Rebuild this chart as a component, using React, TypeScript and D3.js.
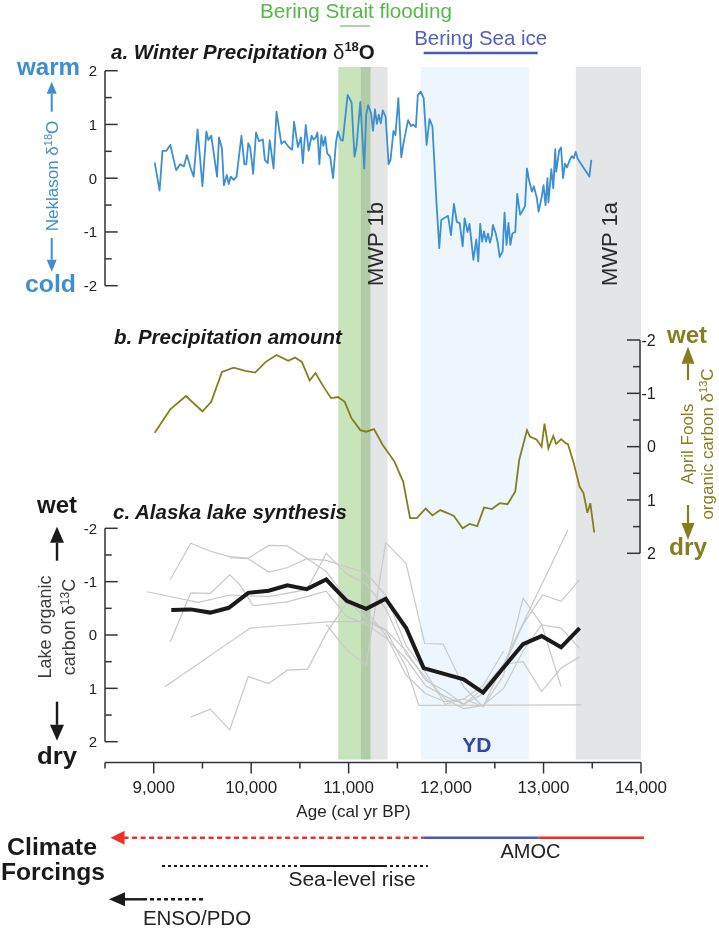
import React from "react";
import * as d3 from "d3";

const WIDTH = 719;
const HEIGHT = 930;
const FONT = "'Liberation Sans', Arial, Helvetica, sans-serif";

// ---------- axes ----------
const ageDomain: [number, number] = [8500, 14000];
const ageMajorTicks = [9000, 10000, 11000, 12000, 13000, 14000];
const ageMinorTicks = [8500, 9500, 10500, 11500, 12500, 13500];
const valueMajorTicks = [-2, -1, 0, 1, 2];
const valueMinorTicks = [-1.5, -0.5, 0.5, 1.5];

// ---------- shaded intervals (cal yr BP) ----------
const bands = [
  { label: "MWP 1b", start: 11126, end: 11400, fill: "#e4e5e7", blend: false },
  { label: "MWP 1a", start: 13331, end: 14000, fill: "#e4e5e7", blend: false },
  { label: "YD", start: 11741, end: 12849, fill: "#eef6fd", blend: false },
  { label: "Bering Strait flooding", start: 10893, end: 11225, fill: "#c8e4ba", blend: true },
];
const straitFloodingSpan: [number, number] = [10910, 11220];
const seaIceSpan: [number, number] = [11770, 12940];

// ---------- a. Neklason winter precipitation d18O ----------
const neklasonD18O: [number, number][] = [
  [9010, 0.29], [9060, -0.23], [9090, 0.51], [9130, 0.51], [9170, 0.62], [9230, 0.15], [9270, 0.26],
  [9310, 0.22], [9340, 0.43], [9380, 0.18], [9410, 0.03], [9450, 0.91], [9500, -0.15], [9540, 0.87],
  [9560, 0.71], [9590, 0.79], [9650, 0.03], [9670, 0.76], [9700, 0.55], [9720, -0.13], [9750, 0.06],
  [9770, -0.11], [9790, 0.03], [9820, -0.03], [9850, 0.03], [9900, 0.79], [9930, 0.26], [9950, 0.26],
  [9970, 0.65], [9990, 0.57], [10020, 0.08], [10050, 0.85], [10080, 0.69], [10120, 0.72], [10140, 0.34],
  [10170, 0.28], [10190, 0.71], [10230, 0.18], [10260, 1.24], [10290, 0.87], [10310, 0.64], [10340, 0.69],
  [10360, 0.64], [10390, 0.57], [10420, 0.53], [10440, 1.05], [10470, 0.69], [10480, 0.58], [10510, 0.76],
  [10530, 0.28], [10560, 0.99], [10590, 0.51], [10620, 0.79], [10640, 0.72], [10660, 0.75], [10680, 0.85],
  [10700, 0.26], [10720, 0.8], [10740, 0.6], [10760, 0.77], [10780, 0.46], [10810, 0.4], [10840, 0.0],
  [10870, 0.66], [10890, 0.87], [10920, 0.71], [10940, 0.7], [10990, 1.55], [11030, 1.41], [11060, 0.4],
  [11080, 0.58], [11120, 1.42], [11160, 0.18], [11180, 1.18], [11200, 1.36], [11230, 1.21], [11250, 0.88],
  [11270, 1.28], [11290, 1.01], [11310, 1.18], [11330, 1.02], [11350, 1.26], [11380, 1.14], [11410, 0.26],
  [11430, 0.34], [11460, 0.88], [11480, 0.8], [11510, 1.49], [11540, 0.39], [11560, 0.62], [11590, 0.9],
  [11610, 1.08], [11640, 0.97], [11660, 1.0], [11690, 0.95], [11710, 1.55], [11740, 1.61], [11770, 1.49],
  [11800, 0.62], [11830, 1.1], [11860, 0.96], [11900, -0.41], [11930, -1.3], [11950, -0.78], [11990, -0.73],
  [12020, -0.7], [12050, -1.06], [12080, -0.48], [12110, -0.81], [12140, -0.84], [12170, -1.27], [12190, -0.75],
  [12220, -1.0], [12240, -0.85], [12260, -1.18], [12280, -1.52], [12310, -1.14], [12330, -1.55], [12350, -0.85],
  [12370, -1.18], [12390, -0.99], [12410, -1.18], [12430, -1.03], [12450, -1.2], [12470, -1.06], [12480, -0.87],
  [12510, -1.03], [12530, -1.2], [12550, -1.47], [12580, -1.36], [12600, -0.64], [12620, -1.24], [12640, -0.83],
  [12660, -1.24], [12680, -1.03], [12710, -1.0], [12730, -0.29], [12760, -0.68], [12780, -0.62], [12810, -0.52],
  [12830, 0.18], [12850, -0.03], [12880, -0.25], [12900, -0.15], [12930, -0.36], [12950, -0.62], [12980, -0.36],
  [13000, -0.13], [13020, -0.5], [13040, 0.0], [13050, -0.45], [13080, 0.17], [13100, -0.19], [13120, 0.54],
  [13130, 0.12], [13160, 0.51], [13180, 0.57], [13200, 0.0], [13220, 0.27], [13240, 0.2], [13270, 0.34],
  [13290, 0.41], [13310, 0.37], [13330, 0.49], [13350, 0.36], [13470, 0.03], [13490, 0.34],
];

// ---------- b. April Fools organic carbon d13C ----------
const aprilFoolsD13C: [number, number][] = [
  [9010, -0.26], [9170, -0.7], [9330, -0.95], [9500, -0.66], [9590, -0.84], [9700, -1.4], [9820, -1.48],
  [9940, -1.42], [10040, -1.39], [10150, -1.59], [10260, -1.72], [10380, -1.61], [10450, -1.67], [10520, -1.59],
  [10600, -1.24], [10660, -1.38], [10740, -1.13], [10820, -0.91], [10890, -0.93], [10960, -0.84], [11030, -0.53],
  [11120, -0.31], [11180, -0.28], [11260, -0.33], [11350, -0.03], [11470, 0.28], [11560, 0.66], [11630, 1.34],
  [11700, 1.34], [11790, 1.16], [11860, 1.29], [11940, 1.19], [12020, 1.25], [12080, 1.3], [12170, 1.53],
  [12240, 1.45], [12320, 1.49], [12390, 1.14], [12470, 1.17], [12550, 1.06], [12630, 1.08], [12710, 0.84],
  [12750, 0.25], [12830, -0.31], [12860, -0.19], [12930, -0.13], [12980, 0.0], [13010, -0.43], [13050, 0.03],
  [13100, -0.2], [13130, -0.05], [13180, -0.14], [13230, -0.06], [13250, -0.05], [13310, 0.31], [13370, 0.75],
  [13410, 0.87], [13450, 1.24], [13480, 1.06], [13520, 1.61],
];

// ---------- c. Alaska lake organic carbon d13C records ----------
const lakeRecordA: [number, number][] = [
  [9170, -1.04], [9380, -1.72], [9580, -1.57], [9780, -1.47], [9970, -1.44], [10180, -1.68], [10370, -1.67],
  [10570, -1.44], [10770, -1.19], [10980, -0.69], [11180, -0.3], [11380, -0.1], [11590, 0.3], [11790, 0.85],
  [11990, 1.05], [12180, 1.3], [12380, 1.1], [12590, 0.6], [12790, -0.2], [12990, -0.75], [13180, -0.63], [13370, -1.04],
];
const lakeRecordB: [number, number][] = [
  [8930, -0.81], [9460, -0.61], [9780, -0.75], [10180, -0.72], [10570, -0.85], [10770, -1.53], [10980, -1.15],
  [11180, -0.95], [11380, -0.5], [11590, 0.35], [11790, 0.8], [11990, 1.2], [12180, 1.38], [12380, 1.32],
  [12590, 1.0], [12790, 0.3], [12980, -0.19], [13180, -0.13], [13370, 0.25],
];
const lakeRecordC: [number, number][] = [
  [9170, 0.13], [9380, -0.79], [9580, -0.78], [9780, -1.13], [9880, -0.95], [10020, -0.55], [10370, -0.62],
  [10570, -0.72], [10770, -0.82], [10980, -0.35], [11180, -0.2], [11380, 0.05], [11590, 0.45], [11790, 0.95],
  [11990, 1.15], [12180, 1.3], [12380, 1.0], [12590, 0.55], [12790, 0.5], [12980, 1.06], [13180, 0.62], [13370, 0.41],
];
const lakeRecordD: [number, number][] = [
  [9115, 0.97], [9990, -0.13], [10810, -0.25], [11180, -0.25], [11380, -0.09], [11590, 0.6], [11720, 1.32], [13390, 1.31],
];
const lakeRecordE: [number, number][] = [
  [9380, 1.54], [9580, 1.39], [9780, 1.78], [9970, 0.78], [10180, 0.91], [10370, 0.66], [10580, 0.64],
  [10770, -0.03], [10980, -0.6], [11180, -0.45], [11380, 0.0], [11590, 0.75], [11790, 1.1], [11990, 1.25],
  [12180, 1.2], [12380, 1.34], [13250, -1.97],
];
const lakeRecordF: [number, number][] = [
  [10770, -0.2], [10980, 0.28], [11180, 0.56], [11380, -1.73], [11590, -1.34], [11780, 0.16], [11970, 0.17],
  [12180, 0.97], [12380, 1.35], [12590, 0.75], [12790, -0.69], [12980, -0.2], [13180, 0.97],
];
const lakeRecordG: [number, number][] = [
  [9780, -1.45], [9970, -1.43], [10180, -1.18], [10370, -1.26], [10570, -1.43], [10770, -1.4], [10980, -1.28],
  [11180, -1.16], [11380, -0.75], [11590, 0.2], [11790, 0.7], [11990, 1.3], [12180, 1.2], [12380, 0.95],
  [12590, 0.3],
];
const lakeRecords = [lakeRecordA, lakeRecordB, lakeRecordC, lakeRecordD, lakeRecordE, lakeRecordF, lakeRecordG];

const lakeSynthesis: [number, number][] = [
  [9180, -0.47], [9380, -0.48], [9580, -0.42], [9770, -0.51], [9970, -0.79], [10180, -0.83], [10370, -0.93],
  [10570, -0.86], [10770, -1.04], [10980, -0.64], [11180, -0.49], [11380, -0.68], [11590, -0.13], [11770, 0.62],
  [12180, 0.83], [12380, 1.08], [12590, 0.61], [12790, 0.17], [12980, 0.02], [13180, 0.23], [13370, -0.13],
];

// ---------- climate forcings (cal yr BP) ----------
const amocSegments = [
  { start: 8557, end: 11772, color: "#e8322b", dash: "5,3.5" },
  { start: 11772, end: 12951, color: "#4a5ab5", dash: "" },
  { start: 12951, end: 14030, color: "#e8322b", dash: "" },
];
const seaLevelSegments = [
  { start: 9085, end: 11813, dash: "3,3" },
  { start: 10520, end: 11392, dash: "" },
];
const ensoSegments = [
  { start: 8541, end: 8890, dash: "" },
  { start: 8890, end: 9505, dash: "4,3" },
];

const BLUE = "#3d8fd0";
const OLIVE = "#857e1e";
const AXIS = "#333333";

function VArrow({ x, from, tip, head, half, color, width }: any) {
  const dir = tip < from ? -1 : 1;
  const base = tip - dir * head;
  return (
    <g>
      <line x1={x} x2={x} y1={from} y2={base} stroke={color} strokeWidth={width} />
      <path d={`M${x},${tip}L${x - half},${base}L${x + half},${base}Z`} fill={color} />
    </g>
  );
}

function LeftHeadArrow({ tip, y, color, head = 14, half = 7 }: any) {
  return <path d={`M${tip},${y}L${tip + head},${y - half}L${tip + head},${y + half}Z`} fill={color} />;
}

function LeftAxis({ y, x0 }: any) {
  return (
    <g>
      <line x1={x0} x2={x0} y1={y(2)} y2={y(-2)} stroke={AXIS} strokeWidth={1.5} />
      {valueMajorTicks.map((v) => (
        <g key={v}>
          <line x1={x0} x2={x0 + 12.7} y1={y(v)} y2={y(v)} stroke={AXIS} strokeWidth={1.5} />
          <text x={x0 - 8} y={y(v)} dy="0.36em" textAnchor="end" fontSize={15} fill="#222">
            {String(v)}
          </text>
        </g>
      ))}
      {valueMinorTicks.map((v) => (
        <line key={v} x1={x0} x2={x0 + 6.7} y1={y(v)} y2={y(v)} stroke={AXIS} strokeWidth={1.5} />
      ))}
    </g>
  );
}

export default function App() {
  const x = d3.scaleLinear().domain(ageDomain).range([105, 641]);
  const yA = d3.scaleLinear().domain([-2, 2]).range([285.7, 70.7]);
  const yB = d3.scaleLinear().domain([-2, 2]).range([340, 553.3]);
  const yC = d3.scaleLinear().domain([-2, 2]).range([528.3, 741.7]);

  const lineA = d3.line<[number, number]>().x((d) => x(d[0])).y((d) => yA(d[1]));
  const lineB = d3.line<[number, number]>().x((d) => x(d[0])).y((d) => yB(d[1]));
  const lineC = d3.line<[number, number]>().x((d) => x(d[0])).y((d) => yC(d[1]));

  const bandTop = 67;
  const bandBottom = 759.5;
  const axisY = 762.5;
  const rightAxisX = 640;

  const mwpBands = bands.filter((b) => b.label.startsWith("MWP"));
  const ydBand = bands.find((b) => b.label === "YD")!;

  return (
    <svg
      width={WIDTH}
      height={HEIGHT}
      style={{ position: "absolute", left: 0, top: 0, display: "block" }}
      fontFamily={FONT}
    >
      <rect x={0} y={0} width={WIDTH} height={HEIGHT} fill="#ffffff" />

      {/* shaded intervals */}
      {bands.map((b) => (
        <rect
          key={b.label}
          x={x(b.start)}
          y={bandTop}
          width={x(b.end) - x(b.start)}
          height={bandBottom - bandTop}
          fill={b.fill}
          style={b.blend ? { mixBlendMode: "multiply" } : undefined}
        />
      ))}
      {mwpBands.map((b) => {
        const cx = (x(b.start) + x(b.end)) / 2 + 9;
        return (
          <text
            key={b.label}
            transform={`translate(${cx},286) rotate(-90)`}
            fontSize={22}
            fill="#2a2a2a"
            textAnchor="start"
          >
            {b.label}
          </text>
        );
      })}
      <text
        x={(x(ydBand.start) + x(ydBand.end)) / 2 + 2}
        y={752}
        textAnchor="middle"
        fontSize={21}
        fontWeight="bold"
        fill="#3346a6"
      >
        YD
      </text>

      {/* event labels at top */}
      <text
        x={(x(straitFloodingSpan[0]) + x(straitFloodingSpan[1])) / 2 + 1}
        y={18}
        textAnchor="middle"
        fontSize={21}
        fill="#56b847"
        textLength={192}
        lengthAdjust="spacingAndGlyphs"
      >
        Bering Strait flooding
      </text>
      <line
        x1={x(straitFloodingSpan[0])}
        x2={x(straitFloodingSpan[1])}
        y1={26}
        y2={26}
        stroke="#a9d89e"
        strokeWidth={2}
      />
      <text
        x={(x(seaIceSpan[0]) + x(seaIceSpan[1])) / 2}
        y={45}
        textAnchor="middle"
        fontSize={21}
        fill="#5060bb"
        textLength={133}
        lengthAdjust="spacingAndGlyphs"
      >
        Bering Sea ice
      </text>
      <line x1={x(seaIceSpan[0])} x2={x(seaIceSpan[1])} y1={53} y2={53} stroke="#4a59b5" strokeWidth={2.5} />

      {/* panel titles */}
      <text x={111} y={59.3} fontSize={20.5} fontWeight="bold" fontStyle="italic" fill="#1a1a1a">
        a. Winter Precipitation{" "}
        <tspan fontStyle="normal" fontWeight="normal">δ</tspan>
        <tspan fontStyle="normal" fontSize={13} dy={-8}>18</tspan>
        <tspan fontStyle="normal" dy={8}>O</tspan>
      </text>
      <text x={114} y={344} fontSize={20.5} fontWeight="bold" fontStyle="italic" fill="#1a1a1a">
        b. Precipitation amount
      </text>
      <text x={113} y={519.3} fontSize={20.5} fontWeight="bold" fontStyle="italic" fill="#1a1a1a">
        c. Alaska lake synthesis
      </text>

      {/* panel a axis and labels */}
      <LeftAxis y={yA} x0={105} />
      <text x={17} y={75} fontSize={24} fontWeight="bold" fill={BLUE} textLength={63} lengthAdjust="spacingAndGlyphs">
        warm
      </text>
      <text x={25} y={291.7} fontSize={24} fontWeight="bold" fill={BLUE} textLength={51} lengthAdjust="spacingAndGlyphs">
        cold
      </text>
      <VArrow x={51.7} from={111.7} tip={81.7} head={12} half={5} color={BLUE} width={2} />
      <VArrow x={51.7} from={238} tip={271.7} head={12} half={5} color={BLUE} width={2} />
      <text transform="translate(58,176) rotate(-90)" textAnchor="middle" fontSize={17} fill={BLUE}>
        Neklason δ<tspan fontSize={11} dy={-6}>18</tspan>
        <tspan dy={6}>O</tspan>
      </text>

      {/* panel b right axis */}
      <line x1={rightAxisX} x2={rightAxisX} y1={yB(-2)} y2={yB(2)} stroke={AXIS} strokeWidth={1.5} />
      {valueMajorTicks.map((v) => (
        <g key={v}>
          <line x1={rightAxisX - 13} x2={rightAxisX} y1={yB(v)} y2={yB(v)} stroke={AXIS} strokeWidth={1.5} />
          <text x={v < 0 ? 641.5 : 647} y={yB(v)} dy="0.36em" fontSize={16} fill="#222">
            {String(v)}
          </text>
        </g>
      ))}
      {valueMinorTicks.map((v) => (
        <line key={v} x1={rightAxisX - 7} x2={rightAxisX} y1={yB(v)} y2={yB(v)} stroke={AXIS} strokeWidth={1.5} />
      ))}
      <text x={667} y={343.3} fontSize={24} fontWeight="bold" fill={OLIVE} textLength={40} lengthAdjust="spacingAndGlyphs">
        wet
      </text>
      <text x={669} y={555} fontSize={24} fontWeight="bold" fill={OLIVE} textLength={38} lengthAdjust="spacingAndGlyphs">
        dry
      </text>
      <VArrow x={688} from={380} tip={346.7} head={17} half={6.5} color={OLIVE} width={2.2} />
      <VArrow x={688} from={505} tip={540} head={17} half={6.5} color={OLIVE} width={2.2} />
      <text transform="translate(692.5,444) rotate(-90)" textAnchor="middle" fontSize={17} fill={OLIVE}>
        April Fools
      </text>
      <text transform="translate(712.5,444) rotate(-90)" textAnchor="middle" fontSize={17} fill={OLIVE}>
        organic carbon δ<tspan fontSize={11} dy={-6}>13</tspan>
        <tspan dy={6}>C</tspan>
      </text>

      {/* panel c axis and labels */}
      <LeftAxis y={yC} x0={105} />
      <text x={37} y={513} fontSize={24} fontWeight="bold" fill="#1a1a1a" textLength={40} lengthAdjust="spacingAndGlyphs">
        wet
      </text>
      <text x={37} y={764} fontSize={24} fontWeight="bold" fill="#1a1a1a" textLength={40} lengthAdjust="spacingAndGlyphs">
        dry
      </text>
      <VArrow x={57} from={560.7} tip={526.7} head={16} half={7} color="#1a1a1a" width={2.4} />
      <VArrow x={57} from={701.7} tip={740.7} head={16} half={7} color="#1a1a1a" width={2.4} />
      <text transform="translate(51,627) rotate(-90)" textAnchor="middle" fontSize={18} fill="#3d3d3d">
        Lake organic
      </text>
      <text transform="translate(75,627) rotate(-90)" textAnchor="middle" fontSize={18} fill="#3d3d3d">
        carbon δ<tspan fontSize={12} dy={-6}>13</tspan>
        <tspan dy={6}>C</tspan>
      </text>

      {/* data */}
      {lakeRecords.map((r, i) => (
        <path key={i} d={lineC(r) || ""} fill="none" stroke="#c9c9c9" strokeWidth={1.2} />
      ))}
      <path d={lineC(lakeSynthesis) || ""} fill="none" stroke="#1a1a1a" strokeWidth={4} strokeLinejoin="miter" />
      <path d={lineB(aprilFoolsD13C) || ""} fill="none" stroke={OLIVE} strokeWidth={1.8} />
      <path d={lineA(neklasonD18O) || ""} fill="none" stroke={BLUE} strokeWidth={1.8} strokeLinejoin="round" />

      {/* age axis */}
      <line x1={x(ageDomain[0])} x2={x(ageDomain[1])} y1={axisY} y2={axisY} stroke={AXIS} strokeWidth={1.5} />
      {ageMajorTicks.map((t) => (
        <g key={t}>
          <line x1={x(t)} x2={x(t)} y1={axisY} y2={axisY + 11} stroke={AXIS} strokeWidth={1.5} />
          <text x={x(t)} y={793} textAnchor="middle" fontSize={17} fill="#222">
            {d3.format(",")(t)}
          </text>
        </g>
      ))}
      {ageMinorTicks.map((t) => (
        <line key={t} x1={x(t)} x2={x(t)} y1={axisY} y2={axisY + 6} stroke={AXIS} strokeWidth={1.5} />
      ))}
      <text x={353.5} y={817} textAnchor="middle" fontSize={17} fill="#222">
        Age (cal yr BP)
      </text>

      {/* climate forcings */}
      <text x={7} y={855} fontSize={24} fontWeight="bold" fill="#1a1a1a" textLength={90} lengthAdjust="spacingAndGlyphs">
        Climate
      </text>
      <text x={1} y={880} fontSize={24} fontWeight="bold" fill="#1a1a1a" textLength={104} lengthAdjust="spacingAndGlyphs">
        Forcings
      </text>

      {amocSegments.map((s, i) => (
        <line
          key={i}
          x1={x(s.start) + (i === 0 ? 13 : 0)}
          x2={x(s.end)}
          y1={837.7}
          y2={837.7}
          stroke={s.color}
          strokeWidth={2.4}
          strokeDasharray={s.dash || undefined}
        />
      ))}
      <LeftHeadArrow tip={x(amocSegments[0].start)} y={837.7} color="#e8322b" head={14} half={7} />
      <text x={530.5} y={858} textAnchor="middle" fontSize={20} fill="#222">
        AMOC
      </text>

      {seaLevelSegments.map((s, i) => (
        <line
          key={i}
          x1={x(s.start)}
          x2={x(s.end)}
          y1={866}
          y2={866}
          stroke="#1a1a1a"
          strokeWidth={2}
          strokeDasharray={s.dash || undefined}
        />
      ))}
      <text x={352} y={886} textAnchor="middle" fontSize={21} fill="#222">
        Sea-level rise
      </text>

      {ensoSegments.map((s, i) => (
        <line
          key={i}
          x1={x(s.start) + (i === 0 ? 12 : 0)}
          x2={x(s.end)}
          y1={899.3}
          y2={899.3}
          stroke="#1a1a1a"
          strokeWidth={2.4}
          strokeDasharray={s.dash || undefined}
        />
      ))}
      <LeftHeadArrow tip={x(ensoSegments[0].start)} y={899.3} color="#1a1a1a" head={16} half={7} />
      <text x={197} y={925} textAnchor="middle" fontSize={20.5} fill="#222">
        ENSO/PDO
      </text>
    </svg>
  );
}
